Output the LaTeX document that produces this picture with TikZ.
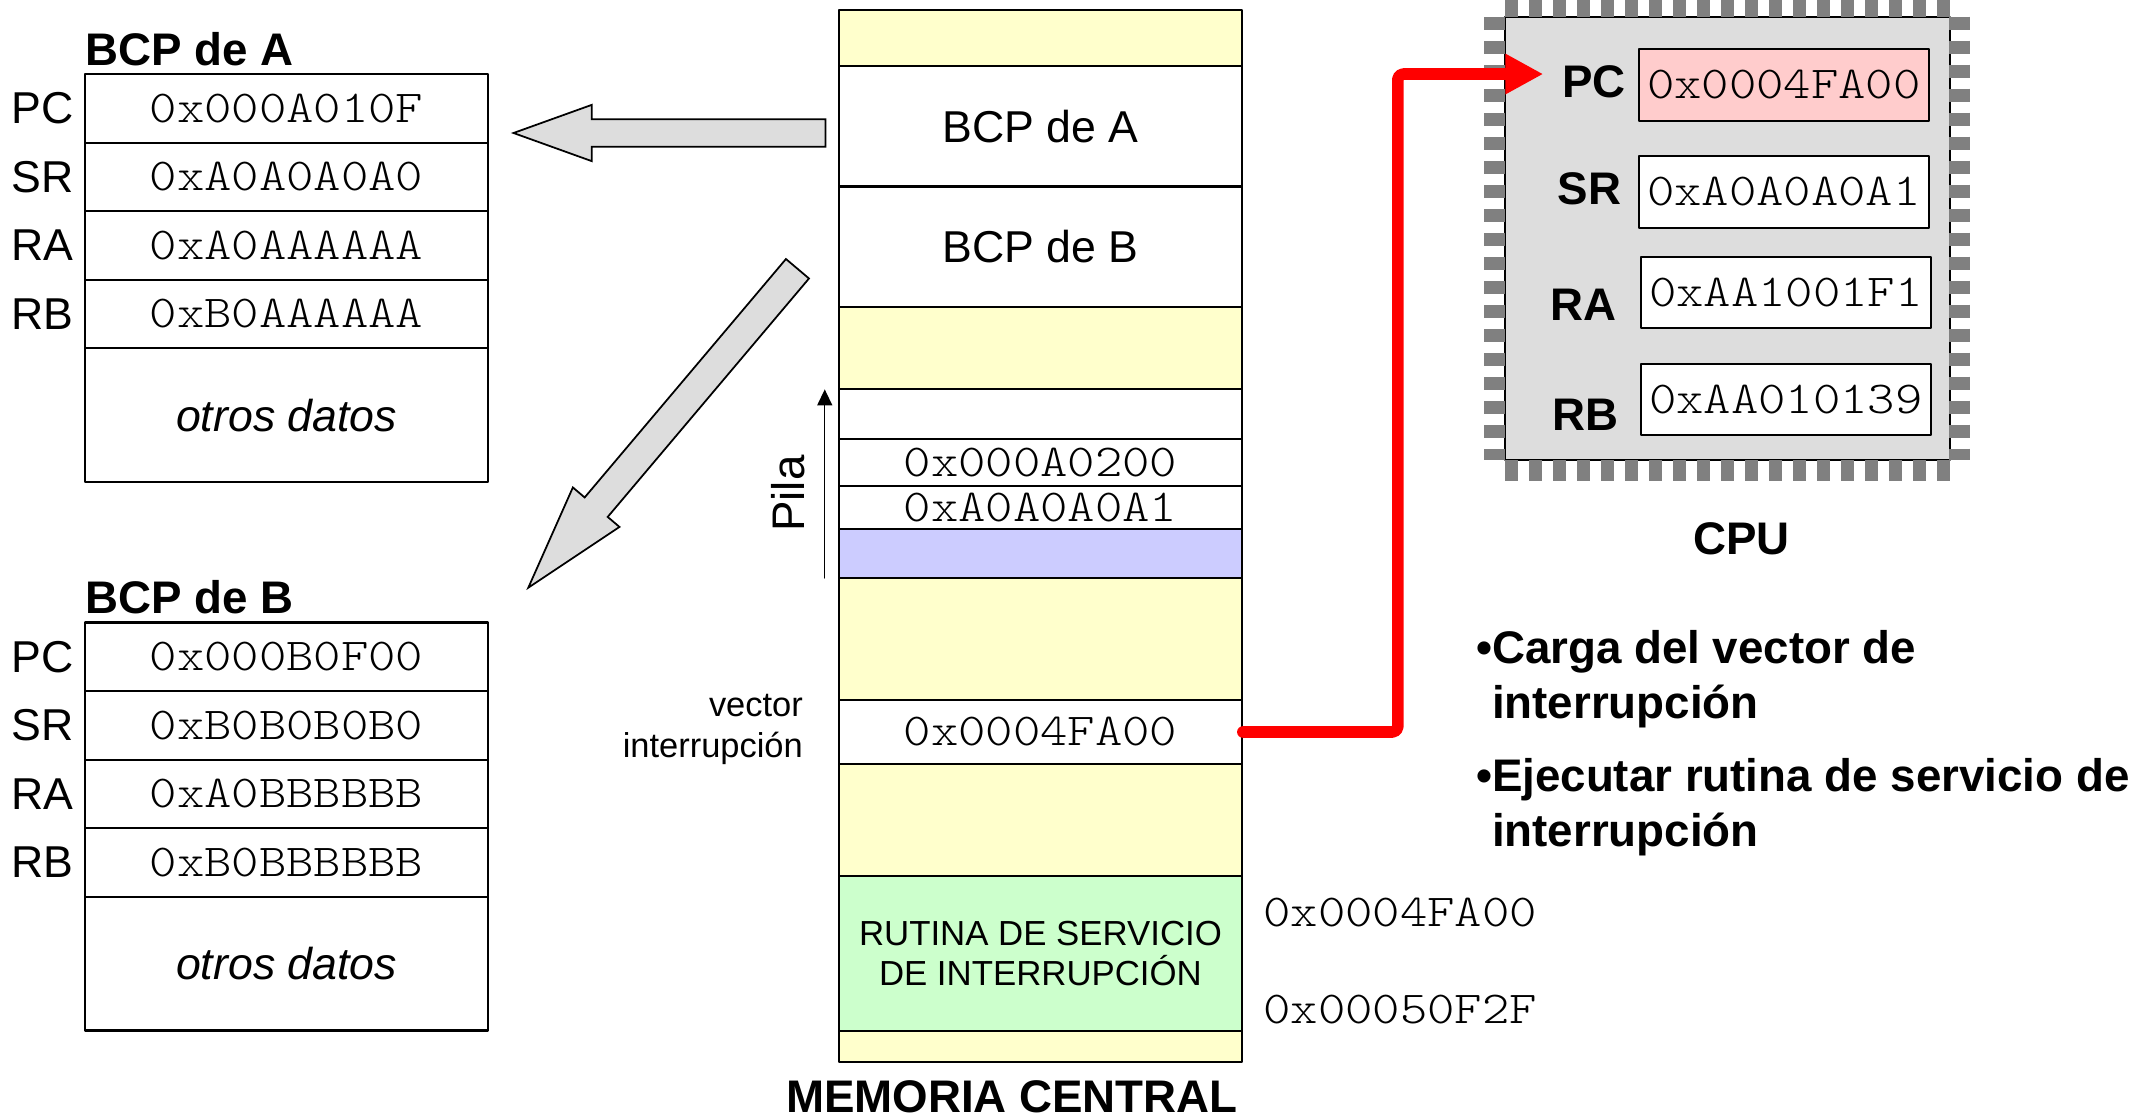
\documentclass[tikz,border=0pt]{standalone}
\usepackage{fontspec}
\setmainfont{Liberation Sans}
\newfontfamily\hexfont[FakeStretch=1.14]{lmmonolt10-regular.otf}
\usetikzlibrary{arrows.meta,positioning,calc}
\definecolor{memyel}{HTML}{FFFFCC}
\definecolor{pilaazul}{HTML}{CCCCFF}
\definecolor{rsiverde}{HTML}{CCFFCC}
\definecolor{pcrosa}{HTML}{FFCCCC}
\definecolor{gris}{HTML}{DDDDDD}
\definecolor{patas}{HTML}{808080}
\newcommand{\hexsize}{\hexfont\fontsize{13}{15}\selectfont}
\newcommand{\txtsize}{\fontsize{12.7}{15}\selectfont}
\newcommand{\bfsize}{\bfseries\fontsize{13}{15.6}\selectfont}
\newcommand{\vecsize}{\fontsize{9.8}{11.7}\selectfont}
\newcommand{\rsisize}{\fontsize{9.9}{11.4}\selectfont}
\tikzset{
  reg/.style={draw,line width=0.6pt,inner sep=0pt,minimum width=40.31mm,minimum height=6.856mm,font=\hexsize},
  cell/.style={draw,line width=0.6pt,fill=white,inner sep=0pt,minimum width=40.27mm},
  cpureg/.style={draw,line width=0.6pt,fill=white,inner sep=0pt,minimum width=29mm,minimum height=7.13mm,font=\hexsize},
  lbl/.style={inner sep=0pt,font=\txtsize},
  titulo/.style={inner sep=0pt,font=\bfsize},
  blockarrow/.style={draw,line width=0.5pt,line join=miter,fill=gris},
  patilla/.style={patas,line width=2.1mm,line cap=butt,dash pattern=on 1.33mm off 1.07mm},
}

\begin{document}
\begin{tikzpicture}[line cap=round,line join=round,>={Triangle[length=1.6mm,width=1.5mm]},x=0.13712mm,y=-0.13712mm]
    \useasboundingbox (0,0) rectangle (1568,815);

    % BCP de A
    \node[titulo,anchor=base west] (tA) at (62,47.5) {BCP de A};
    \node[reg] (a1) at (209,79) {0x000A010F};
    \node[reg] (a2) at (209,129) {0xA0A0A0A0};
    \node[reg] (a3) at (209,179) {0xA0AAAAAA};
    \node[reg] (a4) at (209,229) {0xB0AAAAAA};
    \node[reg,minimum height=13.37mm,font=\txtsize\itshape] (a5) at (209,302.75) {otros datos};
    \node[lbl,left=1mm of a1] (pcA) {PC};
    \node[lbl,left=1mm of a2] (srA) {SR};
    \node[lbl,left=1mm of a3] (raA) {RA};
    \node[lbl,left=1mm of a4] (rbA) {RB};

    % BCP de B
    \node[titulo,anchor=base west] (tB) at (62,447.5) {BCP de B};
    \node[reg] (b1) at (209,479) {0x000B0F00};
    \node[reg] (b2) at (209,529) {0xB0B0B0B0};
    \node[reg] (b3) at (209,579) {0xA0BBBBBB};
    \node[reg] (b4) at (209,629) {0xB0BBBBBB};
    \node[reg,minimum height=13.37mm,font=\txtsize\itshape] (b5) at (209,702.75) {otros datos};
    \node[lbl,left=1mm of b1] (pcB) {PC};
    \node[lbl,left=1mm of b2] (srB) {SR};
    \node[lbl,left=1mm of b3] (raB) {RA};
    \node[lbl,left=1mm of b4] (rbB) {RB};

    % flechas grises
    \draw[blockarrow] (602,87) -- (431.5,87) -- (431.5,76.5) -- (374.5,97) -- (431.5,117.5) -- (431.5,107) -- (602,107) -- cycle;
    \draw[blockarrow] (590,203.1) -- (443.2,377) -- (451.8,384.3) -- (385.3,428.6) -- (417.8,355.5) -- (426.4,362.8) -- (573.2,188.9) -- cycle;

    % memoria central
    \node[cell,fill=memyel,minimum height=5.553mm] (m1) at (758.8,27.75) {};
    \node[cell,minimum height=12.067mm,font=\txtsize] (mA) at (758.8,92) {BCP de A};
    \node[cell,minimum height=12.039mm,font=\txtsize] (mB) at (758.8,179.9) {BCP de B};
    \node[cell,fill=memyel,minimum height=8.227mm] (m4) at (758.8,253.8) {};
    \node[cell,minimum height=4.964mm] (p0) at (758.8,301.9) {};
    \node[cell,minimum height=4.717mm,font=\hexsize] (p1) at (758.8,337.2) {0x000A0200};
    \node[cell,minimum height=4.333mm,font=\hexsize] (p2) at (758.8,370.2) {0xA0A0A0A1};
    \node[cell,fill=pilaazul,minimum height=4.854mm] (p3) at (758.8,403.7) {};
    \node[cell,fill=memyel,minimum height=12.217mm] (m9) at (758.8,465.95) {};
    \node[cell,minimum height=6.404mm,font=\hexsize] (vec) at (758.8,533.85) {0x0004FA00};
    \node[cell,fill=memyel,minimum height=11.162mm] (m11) at (758.8,597.9) {};
    \node[cell,fill=rsiverde,minimum height=15.508mm,align=center,font=\rsisize] (rsi) at (758.8,695.15) {RUTINA DE SERVICIO\\DE INTERRUPCIÓN};
    \node[cell,fill=memyel,minimum height=3.167mm] (m13) at (758.8,763.25) {};
    \node[titulo] (mem) at (738,800) {MEMORIA CENTRAL};

    % pila y vector
    \node[inner sep=0pt,rotate=90,font=\fontsize{13}{15}\selectfont] (pila) at (575,360) {Pila};
    \coordinate (pilabot) at (601.5,421.5);
    \coordinate (pilatop) at (601.5,284);
    \draw[->,line width=0.4pt] (pilabot) -- (pilatop);
    \node[inner sep=0pt,anchor=east,align=right,font=\vecsize] (vlbl) at (586,532) {vector\\interrupción};

    % direcciones de la rutina
    \node[inner sep=0pt,anchor=west,font=\hexsize] (dir1) at (921,665.5) {0x0004FA00};
    \node[inner sep=0pt,anchor=west,font=\hexsize] (dir2) at (921,736.5) {0x00050F2F};

    % CPU
    \draw[line width=0.6pt,fill=gris] (1097.6,12.2) rectangle (1422.1,335.5);
    \draw[patilla] (1097.6,4.9) -- (1422.1,4.9);
    \draw[patilla] (1097.6,342.8) -- (1422.1,342.8);
    \draw[patilla] (1090.3,12.2) -- (1090.3,335.5);
    \draw[patilla] (1429.4,12.2) -- (1429.4,335.5);
    \node[cpureg,fill=pcrosa] (cpc) at (1301,62) {0x0004FA00};
    \node[cpureg] (csr) at (1301,140) {0xA0A0A0A1};
    \node[cpureg] (cra) at (1302.5,213.2) {0xAA1001F1};
    \node[cpureg] (crb) at (1302.5,291.5) {0xAA010139};
    \node[titulo,anchor=east] (lpc) at (1186,60) {PC};
    \node[titulo,anchor=east] (lsr) at (1183,137.5) {SR};
    \node[titulo,anchor=east] (lra) at (1179.5,222.5) {RA};
    \node[titulo,anchor=east] (lrb) at (1181,302.5) {RB};
    \node[titulo] (cpu) at (1270,393) {CPU};

    % carga del vector en PC
    \coordinate (pcin) at (1125.5,54);
    \draw[red,line width=3.3pt,rounded corners=1.5pt,-{Triangle[length=3.8mm,width=3.8mm]}] (vec.east) -- ++(113,0) |- (pcin);

    % pasos
    \node[titulo,anchor=base west] (pa1) at (1076,484) {•Carga del vector de};
    \node[titulo,anchor=base west] (pa2) at (1076,524) {\phantom{•}interrupción};
    \node[titulo,anchor=base west] (pb1) at (1076,577) {•Ejecutar rutina de servicio de};
    \node[titulo,anchor=base west] (pb2) at (1076,617) {\phantom{•}interrupción};
\end{tikzpicture}
\end{document}
